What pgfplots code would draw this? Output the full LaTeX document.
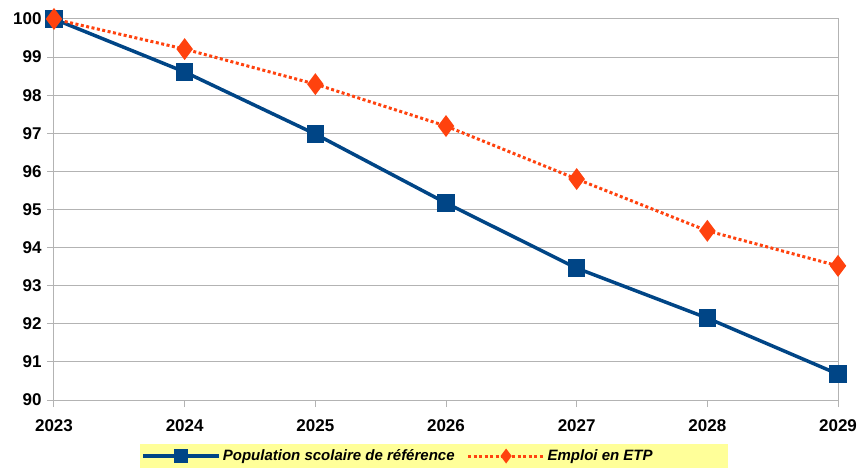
\documentclass[border=0pt]{standalone}
\usepackage{pgfplots}
\pgfplotsset{compat=1.18}
\usepackage{fontspec}
\setmainfont{Liberation Sans}
\definecolor{cblue}{HTML}{004586}
\definecolor{corange}{HTML}{FF420E}
\definecolor{cgrid}{HTML}{B3B3B3}
\definecolor{cleg}{HTML}{FFFF99}
\begin{document}
\begin{tikzpicture}
\begin{axis}[name=ax, at={(0,0)}, anchor=south west,
  scale only axis, width=784pt, height=381pt,
  xmin=2023, xmax=2029, ymin=90, ymax=100,
  xtick={2023,2024,2025,2026,2027,2028,2029},
  ytick={90,91,92,93,94,95,96,97,98,99,100},
  /pgf/number format/.cd, 1000 sep={}, assume math mode=true, /pgfplots/.cd,
  ymajorgrids, major grid style={cgrid, line width=1pt},
  axis line style={cgrid, line width=1pt},
  tick style={cgrid, line width=1pt},
  tick align=outside, major tick length=7pt,
  xtick pos=bottom, ytick pos=left,
  ticklabel style={font=\fontsize{17}{20}\selectfont\bfseries, text=black},
  xticklabel style={yshift=-9pt},
  yticklabel style={xshift=-2pt},
  clip=false,
  legend columns=2,
  legend style={at={(0.4847,-0.147)}, anchor=center, fill=cleg, draw=none,
    font=\fontsize{15}{18}\selectfont\bfseries\itshape, inner xsep=1pt, inner ysep=3.5pt,
    /tikz/every even column/.append style={column sep=10pt}},
  legend image code/.code={\draw[mark repeat=2,mark phase=2,#1] plot coordinates {(0pt,0pt) (38pt,0pt) (76pt,0pt)};},
]
\addplot[cblue, line width=3.5pt, mark=square*, mark size=7pt, mark options={solid},
  legend image post style={mark size=5pt}]
  coordinates {(2023,100) (2024,98.61) (2025,96.98) (2026,95.17) (2027,93.46) (2028,92.15) (2029,90.68)};
\addlegendentry{Population scolaire de référence}
\addplot[corange, line width=3pt, dash pattern=on 3pt off 2.5pt, mark=diamond*, mark size=8.5pt, mark options={solid},
  legend image post style={mark size=5pt}]
  coordinates {(2023,100) (2024,99.21) (2025,98.29) (2026,97.19) (2027,95.80) (2028,94.44) (2029,93.52)};
\addlegendentry{Emploi en ETP\hspace*{72pt}}
\end{axis}
\pgfresetboundingbox
\useasboundingbox ([shift={(-54pt,-69pt)}]ax.south west) rectangle ([shift={(807pt,400pt)}]ax.south west);
\end{tikzpicture}
\end{document}
